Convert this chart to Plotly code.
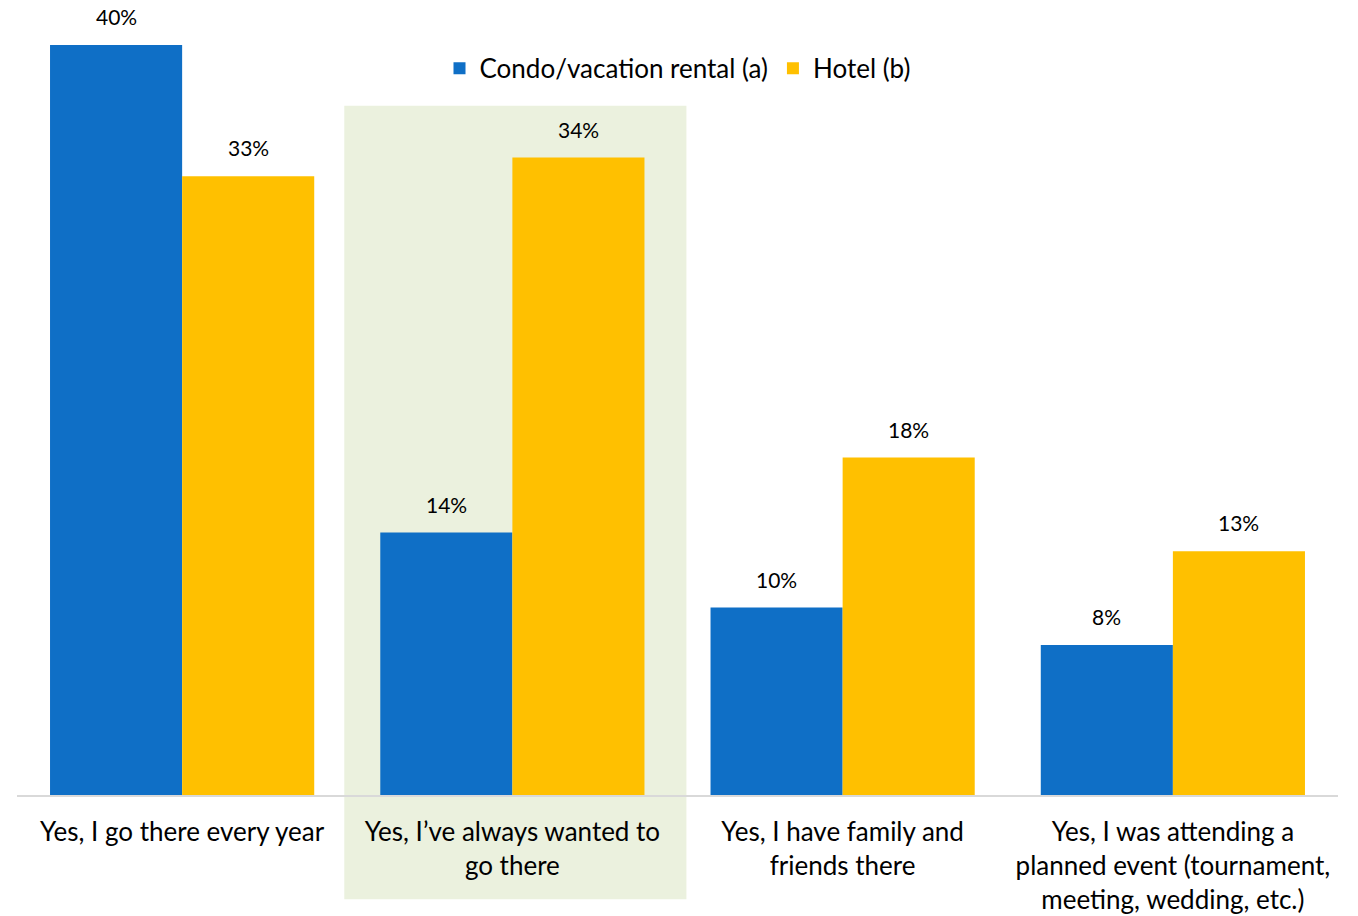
import plotly.graph_objects as go

# Survey responses: reason for choosing the destination
categories = [
    "Yes, I go there every year",
    "Yes, I’ve always wanted to<br>go there",
    "Yes, I have family and<br>friends there",
    "Yes, I was attending a<br>planned event (tournament,<br>meeting, wedding, etc.)",
]
condo_pct = [40, 14, 10, 8]
hotel_pct = [33, 34, 18, 13]
series_names = ["Condo/vacation rental (a)", "Hotel (b)"]

BLUE = "#0F6FC6"
GOLD = "#FFC000"
FONT = "Lato, Carlito, Calibri, sans-serif"

x_idx = list(range(len(categories)))

fig = go.Figure()
fig.add_trace(go.Bar(x=x_idx, y=condo_pct, name=series_names[0],
                     marker=dict(color=BLUE, line=dict(width=0))))
fig.add_trace(go.Bar(x=x_idx, y=hotel_pct, name=series_names[1],
                     marker=dict(color=GOLD, line=dict(width=0))))

# Value labels above each bar
for vals, shift in ((condo_pct, -66), (hotel_pct, 66)):
    for i, v in enumerate(vals):
        fig.add_annotation(x=i, y=v, text=f"{v}%", showarrow=False,
                           xshift=shift, yshift=14, yanchor="bottom",
                           font=dict(size=21, color="#000000", family=FONT))

# Highlighted category band
fig.add_shape(type="rect", xref="x", yref="paper",
              x0=0.491, x1=1.527, y0=-0.139, y1=0.919,
              fillcolor="#EBF1DE", line=dict(width=0), layer="below")

fig.update_layout(
    width=1358, height=916,
    margin=dict(l=17, r=20, t=45, b=121),
    paper_bgcolor="white", plot_bgcolor="rgba(0,0,0,0)",
    barmode="group", bargap=0.2, bargroupgap=0,
    font=dict(family=FONT, color="#000000"),
    showlegend=True,
    legend=dict(orientation="h", x=0.5, xanchor="center", y=0.969,
                yanchor="middle", font=dict(size=26), bgcolor="rgba(0,0,0,0)",
                itemwidth=30, traceorder="normal"),
    xaxis=dict(tickmode="array", tickvals=x_idx, ticktext=categories,
               range=[-0.5, len(categories) - 0.5],
               showline=True, linecolor="#D9D9D9", linewidth=1.5,
               showgrid=False, zeroline=False, ticks="",
               ticklabelstandoff=13, automargin=False,
               tickfont=dict(size=26, family=FONT)),
    yaxis=dict(range=[0, 40], visible=False, showgrid=False, zeroline=False,
               automargin=False),
)

fig.write_html("out.html")
